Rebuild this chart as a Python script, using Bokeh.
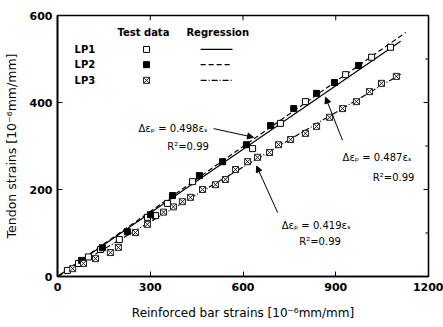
from bokeh.plotting import figure
from bokeh.models import Range1d, Arrow, NormalHead
from bokeh.embed import file_html
from bokeh.resources import INLINE
from bokeh.core.properties import value

# ---- data ----
lp1_x = [32, 68, 100, 139, 200, 291, 317, 356, 437, 631, 721, 802, 932, 1016, 1077]
lp1_y = [14, 30, 45, 62, 85, 136, 140, 168, 218, 294, 352, 402, 464, 504, 527]

lp2_x = [78, 145, 226, 301, 372, 459, 534, 611, 689, 764, 838, 896, 974]
lp2_y = [37, 66, 103, 142, 186, 232, 264, 303, 347, 386, 421, 446, 485]

lp3_x = [49, 84, 123, 171, 197, 252, 291, 343, 375, 404, 430, 469, 511, 543, 576,
         615, 647, 686, 715, 754, 802, 838, 880, 922, 967, 1009, 1048, 1096]
lp3_y = [18, 30, 41, 55, 67, 101, 120, 148, 160, 172, 182, 200, 211, 223, 246,
         264, 274, 285, 303, 315, 329, 345, 366, 386, 402, 425, 444, 460]

series_names = ["LP1", "LP2", "LP3"]
reg_slopes = [0.487, 0.498, 0.419]
reg_x_end = [1110, 1126, 1110]
reg_labels = ["Δεₚ = 0.487εₛ", "Δεₚ = 0.498εₛ", "Δεₚ = 0.419εₛ"]
r2_label = "R²=0.99"

x_ticks = [0, 300, 600, 900, 1200]
y_ticks = [0, 200, 400, 600]
y_minor = [100, 300, 500]

FONT = "DejaVu Sans"
X_MAX, Y_MAX = 1200, 600

p = figure(width=443, height=327, output_backend="svg", toolbar_location=None,
           x_range=Range1d(0, X_MAX), y_range=Range1d(0, Y_MAX),
           min_border_left=57, min_border_right=15, min_border_top=15, min_border_bottom=51)
p.xgrid.visible = False
p.ygrid.visible = False
p.outline_line_color = "black"
p.outline_line_width = 1.6
p.background_fill_color = "white"
p.border_fill_color = "white"

for ax in [p.xaxis[0], p.yaxis[0]]:
    ax.axis_line_width = 1.6
    ax.major_tick_in = 5
    ax.major_tick_out = 0
    ax.minor_tick_in = 3
    ax.minor_tick_out = 0
    ax.major_label_text_font = FONT
    ax.major_label_text_font_style = "bold"
    ax.major_label_text_font_size = "11px"
    ax.major_label_text_color = "black"
    ax.axis_label_text_font = FONT
    ax.axis_label_text_font_style = "normal"
    ax.axis_label_text_font_size = "12px"
    ax.axis_label_text_color = "black"

p.xaxis[0].ticker = x_ticks
p.yaxis[0].ticker = y_ticks
p.xaxis[0].ticker.num_minor_ticks = 2
p.yaxis[0].ticker.num_minor_ticks = 2
p.xaxis[0].axis_label = "Reinforced bar strains [10⁻⁶mm/mm]"
p.yaxis[0].axis_label = "Tendon strains [10⁻⁶mm/mm]"
p.yaxis[0].axis_label_text_font_size = "12.5px"
p.xaxis[0].major_label_standoff = 6
p.xaxis[0].axis_label_standoff = 12
p.yaxis[0].major_label_standoff = 5
p.yaxis[0].axis_label_standoff = 8

# inward ticks on the right frame edge (major and minor) and top edge
p.segment(x0=[X_MAX] * len(y_ticks), y0=y_ticks, x1=[X_MAX - 16] * len(y_ticks), y1=y_ticks,
          line_color="black", line_width=1)
p.segment(x0=[X_MAX] * len(y_minor), y0=y_minor, x1=[X_MAX - 10] * len(y_minor), y1=y_minor,
          line_color="black", line_width=1)
p.segment(x0=x_ticks, y0=[Y_MAX] * len(x_ticks), x1=x_ticks, y1=[Y_MAX - 11] * len(x_ticks),
          line_color="black", line_width=1)

# regression lines
dashes = ["solid", "5 3", "6 2 1 2"]
for s, xe, d in zip(reg_slopes, reg_x_end, dashes):
    p.line([0, xe], [0, s * xe], line_color="black", line_width=1.2, line_dash=d)

# test data
p.scatter(lp1_x, lp1_y, marker="square", size=6, fill_color="white", line_color="black", line_width=1)
p.scatter(lp2_x, lp2_y, marker="square", size=6, fill_color="black", line_color="black", line_width=1)
p.scatter(lp3_x, lp3_y, marker="square_x", size=6, fill_color="white", line_color="#222222", line_width=1)

# legend (manual)
txt = dict(text_font=value(FONT), text_color="black", text_baseline="middle")
p.text([194], [561], text=["Test data"], text_font_size="10px", text_font_style="bold", **txt)
p.text([417], [561], text=["Regression"], text_font_size="10px", text_font_style="bold", **txt)
rows_y = [522, 487, 451]
p.text([55, 55, 55], rows_y, text=series_names, text_font_size="10px", text_font_style="bold", **txt)
p.scatter([288], [rows_y[0]], marker="square", size=6, fill_color="white", line_color="black")
p.scatter([288], [rows_y[1]], marker="square", size=6, fill_color="black", line_color="black")
p.scatter([288], [rows_y[2]], marker="square_x", size=6, fill_color="white", line_color="#222222")
for yy, d in zip(rows_y, dashes):
    p.line([463, 566], [yy, yy], line_color="black", line_width=1.2, line_dash=d)

# annotations
ann = dict(text_font=value(FONT), text_color="black", text_baseline="middle", text_font_size="10px")
p.text([262], [340], text=[reg_labels[1]], **ann)
p.text([355], [300], text=[r2_label], **ann)
p.text([922], [273], text=[reg_labels[0]], **ann)
p.text([1020], [228], text=[r2_label], **ann)
p.text([725], [117], text=[reg_labels[2]], **ann)
p.text([782], [80], text=[r2_label], **ann)

head = dict(size=6, fill_color="black", line_color="black")
p.add_layout(Arrow(end=NormalHead(**head), x_start=505, y_start=340, x_end=634, y_end=320, line_width=1))
p.add_layout(Arrow(end=NormalHead(**head), x_start=922, y_start=313, x_end=867, y_end=412, line_width=1))
p.add_layout(Arrow(end=NormalHead(**head), x_start=712, y_start=147, x_end=644, y_end=254, line_width=1))

open("out.html", "w").write(file_html(p, INLINE))
